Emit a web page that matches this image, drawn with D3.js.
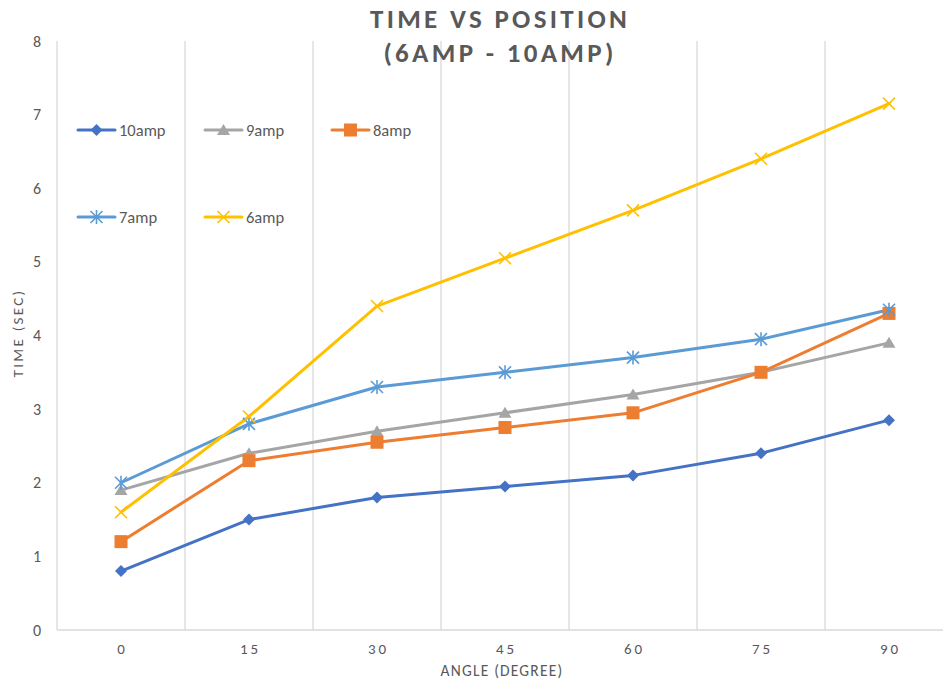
<!DOCTYPE html>
<html><head><meta charset="utf-8">
<script src="https://cdn.jsdelivr.net/npm/d3@7/dist/d3.min.js"></script>
<style>body{margin:0;background:#fff}svg{display:block}</style>
</head><body>
<script>
const categories = ["0","15","30","45","60","75","90"];
const seriesNames = ["10amp","9amp","8amp","7amp","6amp"];
const amp10 = [0.8,1.5,1.8,1.95,2.1,2.4,2.85];
const amp9  = [1.9,2.4,2.7,2.95,3.2,3.5,3.9];
const amp8  = [1.2,2.3,2.55,2.75,2.95,3.5,4.3];
const amp7  = [2.0,2.8,3.3,3.5,3.7,3.95,4.35];
const amp6  = [1.6,2.9,4.4,5.05,5.7,6.4,7.15];
const yTicks = [0,1,2,3,4,5,6,7,8];
const colors = ["#4472C4","#A5A5A5","#ED7D31","#5B9BD5","#FFC000"];
const markers = ["diamond","triangle","square","asterisk","cross"];
const seriesValues = [amp10,amp9,amp8,amp7,amp6];

const W=943,H=681;
const svg=d3.select("body").append("svg").attr("width",W).attr("height",H);
const font="Carlito, Calibri, 'Liberation Sans Narrow', 'Open Sans', sans-serif";
const txt="#595959";

const x=d3.scaleBand().domain(categories).range([57,953]);
const y=d3.scaleLinear().domain([0,8]).range([630,41]);

// vertical gridlines at band boundaries
const bounds=categories.map(c=>x(c)).concat([x(categories[categories.length-1])+x.bandwidth()]);
svg.append("g").selectAll("line").data(bounds).join("line")
  .attr("x1",d=>d).attr("x2",d=>d).attr("y1",y(8)).attr("y2",y(0))
  .attr("stroke","#d9d9d9").attr("stroke-width",1.3);
// baseline
svg.append("line").attr("x1",57).attr("x2",953).attr("y1",y(0)).attr("y2",y(0))
  .attr("stroke","#d9d9d9").attr("stroke-width",1.5);

// y ticks
svg.append("g").selectAll("text").data(yTicks).join("text")
  .attr("x",41).attr("y",d=>y(d)).attr("dy","0.35em").attr("text-anchor","end")
  .attr("font-family",font).attr("font-size",16).attr("fill",txt).text(d=>d);
// x ticks
svg.append("g").selectAll("text").data(categories).join("text")
  .attr("x",d=>x(d)+x.bandwidth()/2+1.5).attr("y",654).attr("text-anchor","middle")
  .attr("font-family",font).attr("font-size",15).attr("letter-spacing","3px").attr("fill",txt).text(d=>d);

// axis titles
svg.append("text").attr("x",502).attr("y",676).attr("text-anchor","middle")
  .attr("font-family",font).attr("font-size",15.5).attr("letter-spacing","1.2px").attr("fill",txt).text("ANGLE (DEGREE)");
svg.append("text").attr("transform","translate(23,333) rotate(-90)").attr("text-anchor","middle")
  .attr("font-family",font).attr("font-size",15).attr("letter-spacing","2.3px").attr("fill",txt).text("TIME (SEC)");

// title
const title=svg.append("g").attr("font-family",font).attr("font-size",27).attr("font-weight","bold")
  .attr("fill",txt).attr("letter-spacing","3.3px").attr("text-anchor","middle");
title.append("text").attr("x",500).attr("y",28).text("TIME VS POSITION");
title.append("text").attr("x",500).attr("y",62).text("(6AMP - 10AMP)");

function drawMarker(g,type,color){
  if(type==="diamond"){
    g.append("path").attr("d","M0,-6L6,0L0,6L-6,0Z").attr("fill",color);
  } else if(type==="triangle"){
    g.append("path").attr("d","M0,-6L6.5,5L-6.5,5Z").attr("fill",color);
  } else if(type==="square"){
    g.append("rect").attr("x",-6.5).attr("y",-6.5).attr("width",13).attr("height",13).attr("fill",color);
  } else if(type==="asterisk"){
    g.append("path").attr("d","M-6,-6L6,6M-6,6L6,-6M0,-7L0,7").attr("stroke",color).attr("stroke-width",1.6).attr("fill","none");
  } else if(type==="cross"){
    g.append("path").attr("d","M-6,-6L6,6M-6,6L6,-6").attr("stroke",color).attr("stroke-width",1.6).attr("fill","none");
  }
}

const line=d3.line().x((d,i)=>x(categories[i])+x.bandwidth()/2).y(d=>y(d));

seriesValues.forEach((vals,si)=>{
  svg.append("path").datum(vals).attr("d",line).attr("fill","none")
    .attr("stroke",colors[si]).attr("stroke-width",3).attr("stroke-linejoin","round").attr("stroke-linecap","round");
});
seriesValues.forEach((vals,si)=>{
  vals.forEach((v,i)=>{
    const g=svg.append("g").attr("transform",`translate(${x(categories[i])+x.bandwidth()/2},${y(v)})`);
    drawMarker(g,markers[si],colors[si]);
  });
});

// legend
const legPos=[[78,130],[205,130],[332,130],[78,217],[205,217]];
seriesNames.forEach((n,si)=>{
  const [lx,ly]=legPos[si];
  const g=svg.append("g").attr("transform",`translate(${lx},${ly})`);
  g.append("line").attr("x1",0).attr("x2",37).attr("y1",0).attr("y2",0).attr("stroke",colors[si]).attr("stroke-width",3).attr("stroke-linecap","round");
  const m=g.append("g").attr("transform","translate(18.5,0)");
  drawMarker(m,markers[si],colors[si]);
  g.append("text").attr("x",41).attr("y",0).attr("dy","0.35em").attr("font-family",font)
    .attr("font-size",16.5).attr("fill",txt).text(n);
});
</script>
</body></html>
